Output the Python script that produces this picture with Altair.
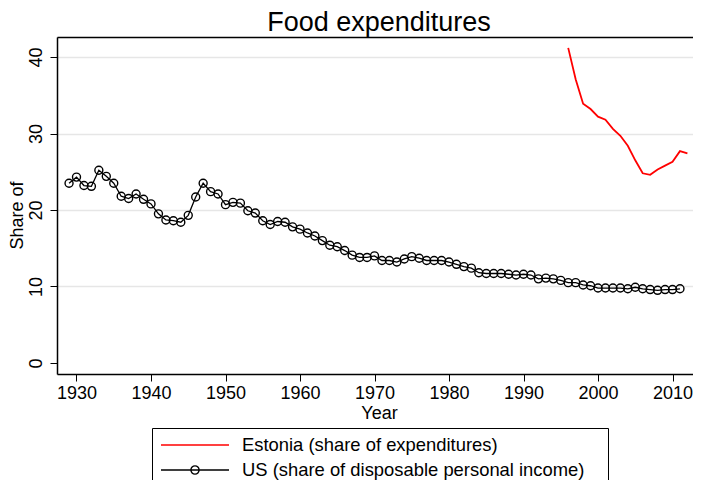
import altair as alt
import pandas as pd

EST = "Estonia (share of expenditures)"
US = "US (share of disposable personal income)"

us_years = list(range(1929, 2012))
us_values = [23.5, 24.3, 23.2, 23.1, 25.2, 24.4, 23.5, 21.8, 21.5, 22.1,
             21.4, 20.8, 19.5, 18.7, 18.6, 18.4, 19.3, 21.7, 23.5, 22.4,
             22.1, 20.7, 21.0, 20.9, 19.9, 19.6, 18.6, 18.1, 18.5, 18.4,
             17.8, 17.5, 17.0, 16.6, 16.0, 15.4, 15.2, 14.7, 14.1, 13.8,
             13.8, 14.0, 13.4, 13.4, 13.2, 13.6, 13.9, 13.7, 13.4, 13.4,
             13.4, 13.2, 12.9, 12.6, 12.4, 11.8, 11.7, 11.7, 11.7, 11.6,
             11.5, 11.6, 11.5, 11.0, 11.1, 11.0, 10.8, 10.5, 10.5, 10.2,
             10.1, 9.8, 9.8, 9.8, 9.8, 9.7, 9.9, 9.7, 9.6, 9.5,
             9.6, 9.6, 9.7]

est_years = list(range(1996, 2013))
est_values = [41.2, 37.1, 33.9, 33.2, 32.2, 31.8, 30.6, 29.7, 28.4, 26.5,
              24.8, 24.6, 25.3, 25.8, 26.3, 27.7, 27.4]

x_ticks = [1930, 1940, 1950, 1960, 1970, 1980, 1990, 2000, 2010]
y_ticks = [0, 10, 20, 30, 40]

df = pd.concat([
    pd.DataFrame({"year": est_years, "value": est_values, "series": EST}),
    pd.DataFrame({"year": us_years, "value": us_values, "series": US}),
])

FONT = "Liberation Sans"

x_scale = alt.Scale(domain=[1927.383, 2012.75], nice=False, zero=False)
y_scale = alt.Scale(domain=[-1.44, 42.62], nice=False, zero=False)

line_path = "M-1,0L1,0"
us_path = "M-1,0L1,0M0.12,0A0.12,0.12 0 1 1 -0.12,0A0.12,0.12 0 1 1 0.12,0"

legend = alt.Legend(
    title="\u00a0",
    titleOrient="right",
    titlePadding=16,
    titleFontSize=18,
    orient="none",
    legendX=95,
    legendY=391,
    direction="vertical",
    strokeColor="black",
    padding=8,
    symbolSize=68 * 68,
    symbolStrokeWidth=1.4,
    symbolFillColor="transparent",
    symbolOpacity=1,
    clipHeight=18,
    rowPadding=6,
    labelOffset=12,
    labelFontSize=18.4,
    labelFont=FONT,
    labelColor="black",
    labelLimit=600,
)

color = alt.Color(
    "series:N",
    scale=alt.Scale(domain=[EST, US], range=["#ff0000", "#000000"]),
    legend=legend,
)

shape = alt.Shape(
    "series:N",
    scale=alt.Scale(domain=[EST, US], range=[line_path, us_path]),
    legend=legend,
)

y_axis = alt.Axis(
    values=y_ticks,
    title="Share of",
    titleFont=FONT,
    titleFontSize=18,
    titleFontWeight="normal",
    titleColor="black",
    titleAngle=270,
    titleAlign="center",
    titleBaseline="middle",
    titleX=-40,
    titleY=178,
    labelAngle=270,
    labelAlign="center",
    labelBaseline="bottom",
    labelPadding=5,
    labelFont=FONT,
    labelFontSize=18,
    labelColor="black",
    tickSize=7,
    tickColor="black",
    tickWidth=1,
    domainColor="black",
    domainWidth=1.5,
    grid=True,
    gridColor={"condition": {"test": "datum.value === 0", "value": "transparent"},
               "value": "#e6e6e6"},
    gridWidth=1.5,
)

x_axis_bottom = alt.Axis(
    values=x_ticks,
    format="d",
    title="Year",
    titleFont=FONT,
    titleFontSize=18,
    titleFontWeight="normal",
    titleColor="black",
    titlePadding=2,
    titleX=322,
    labelFont=FONT,
    labelFontSize=18,
    labelColor="black",
    labelPadding=3,
    labelFlush=False,
    tickSize=7,
    tickColor="black",
    tickWidth=1,
    domainColor="black",
    domainWidth=1.5,
    grid=False,
)

x_axis_top = alt.Axis(
    orient="top",
    labels=False,
    ticks=False,
    title=None,
    domainColor="black",
    domainWidth=1.5,
    grid=False,
)

est_layer = alt.Chart(df).transform_filter(
    alt.datum.series == EST
).mark_line(strokeWidth=1.8).encode(
    x=alt.X("year:Q", scale=x_scale, axis=x_axis_top),
    y=alt.Y("value:Q", scale=y_scale, axis=y_axis),
    color=color,
)

us_line = alt.Chart(df).transform_filter(
    alt.datum.series == US
).mark_line(strokeWidth=1.3).encode(
    x=alt.X("year:Q", scale=x_scale, axis=x_axis_bottom),
    y=alt.Y("value:Q", scale=y_scale, axis=y_axis),
    color=color,
)

us_points = alt.Chart(df).transform_filter(
    alt.datum.series == US
).mark_point(filled=False, size=64, strokeWidth=1.4, opacity=1, shape="circle").encode(
    x=alt.X("year:Q", scale=x_scale, axis=None),
    y=alt.Y("value:Q", scale=y_scale, axis=y_axis),
    color=color,
)

# legend-only layer (no rows pass the filter) carrying the legend symbol shapes
legend_layer = alt.Chart(df).transform_filter(
    "false"
).mark_point(filled=False, opacity=0).encode(
    x=alt.X("year:Q", scale=x_scale, axis=None),
    y=alt.Y("value:Q", scale=y_scale, axis=y_axis),
    color=color,
    shape=shape,
)

chart = alt.layer(est_layer, us_line, us_points, legend_layer).resolve_axis(
    x="independent"
).properties(
    width=636,
    height=337,
    autosize=alt.AutoSizeParams(type="none"),
    padding={"left": 49, "top": 29, "right": 0, "bottom": 106},
    title=alt.TitleParams(
        "Food expenditures",
        font=FONT,
        fontSize=27,
        fontWeight="normal",
        color="black",
        anchor="middle",
        offset=0,
        dx=4,
    ),
).configure_view(stroke="transparent", strokeWidth=0).configure(background="white")

chart.save("out.html", embed_options={"renderer": "svg", "actions": False})
